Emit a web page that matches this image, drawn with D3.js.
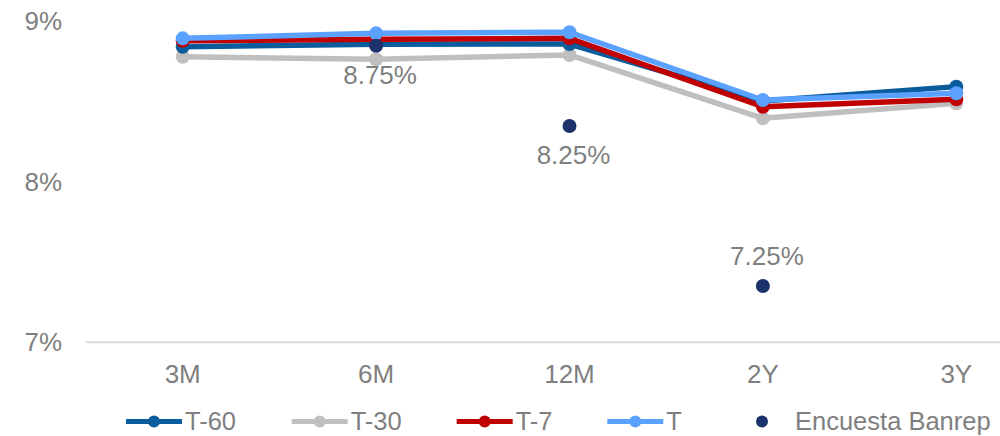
<!DOCTYPE html>
<html>
<head>
<meta charset="utf-8">
<script src="https://cdn.jsdelivr.net/npm/d3@7"></script>
<style>
  html, body { margin: 0; padding: 0; background: #fff; }
  svg { display: block; font-family: "Liberation Sans", Arial, sans-serif; }
</style>
</head>
<body>
<svg id="chart" width="1000" height="436"></svg>
<script>
const categories = ["3M", "6M", "12M", "2Y", "3Y"];
const yTicks = [7, 8, 9];
const seriesNames = ["T-60", "T-30", "T-7", "T"];
const t60 = [8.837, 8.852, 8.854, 8.500, 8.589];
const t30 = [8.775, 8.759, 8.786, 8.392, 8.485];
const t7  = [8.874, 8.883, 8.889, 8.464, 8.510];
const tNow = [8.889, 8.920, 8.927, 8.506, 8.548];
const encuestaCats = ["6M", "12M", "2Y"];
const encuestaValues = [8.843, 8.344, 7.350];
const encuestaLabels = ["8.75%", "8.25%", "7.25%"];
const encuestaLabelSide = ["below", "below", "above"];
const encuestaName = "Encuesta Banrep";

const colors = { "T-60": "#0B5C9C", "T-30": "#BFBFBF", "T-7": "#C00000", "T": "#5BA1FF" };
const encColor = "#1B326B";
const textColor = "#7F7F7F";

const svg = d3.select("#chart");
const x = d3.scaleBand().domain(categories).range([86, 1053]).padding(0);
const cx = c => x(c) + x.bandwidth() / 2;
const y = d3.scaleLinear().domain([7, 9]).range([342.3, 20.5]);

// y tick labels
svg.append("g").selectAll("text").data(yTicks).join("text")
  .attr("x", 62).attr("y", d => y(d)).attr("dy", "0.35em")
  .attr("text-anchor", "end").attr("fill", textColor)
  .attr("font-size", 26).text(d => d + "%");

// x axis line
svg.append("line").attr("x1", 86).attr("x2", 1053)
  .attr("y1", y(7)).attr("y2", y(7))
  .attr("stroke", "#D9D9D9").attr("stroke-width", 2);

// x labels
svg.append("g").selectAll("text").data(categories).join("text")
  .attr("x", d => cx(d)).attr("y", 374).attr("dy", "0.35em")
  .attr("text-anchor", "middle").attr("fill", textColor)
  .attr("font-size", 26).text(d => d);

const series = [
  { name: "T-30", values: t30 },
  { name: "T-60", values: t60 },
  { name: "T-7", values: t7 },
  { name: "T", values: tNow }
];

const line = d3.line().x((d, i) => cx(categories[i])).y(d => y(d));

series.forEach(s => {
  const g = svg.append("g");
  g.append("path").datum(s.values)
    .attr("d", line).attr("fill", "none")
    .attr("stroke", colors[s.name]).attr("stroke-width", 5.5)
    .attr("stroke-linejoin", "round");
  g.selectAll("circle").data(s.values).join("circle")
    .attr("cx", (d, i) => cx(categories[i])).attr("cy", d => y(d))
    .attr("r", 7).attr("fill", colors[s.name]);
});

// encuesta dots
svg.append("g").selectAll("circle").data(encuestaValues).join("circle")
  .attr("cx", (d, i) => cx(encuestaCats[i])).attr("cy", d => y(d))
  .attr("r", 7).attr("fill", encColor);

svg.append("g").selectAll("text").data(encuestaValues).join("text")
  .attr("x", (d, i) => cx(encuestaCats[i]) + 4)
  .attr("y", (d, i) => y(d) + (encuestaLabelSide[i] === "below" ? 29 : -30))
  .attr("dy", "0.35em").attr("text-anchor", "middle")
  .attr("fill", textColor).attr("font-size", 26)
  .text((d, i) => encuestaLabels[i]);

// legend
const legendY = 421.5;
const legendItems = [
  { name: "T-60", x: 126 },
  { name: "T-30", x: 291.7 },
  { name: "T-7", x: 456.7 },
  { name: "T", x: 607.3 }
];
const lg = svg.append("g");
legendItems.forEach(it => {
  lg.append("line").attr("x1", it.x).attr("x2", it.x + 56)
    .attr("y1", legendY).attr("y2", legendY)
    .attr("stroke", colors[it.name]).attr("stroke-width", 5);
  lg.append("circle").attr("cx", it.x + 28).attr("cy", legendY).attr("r", 6)
    .attr("fill", colors[it.name]);
  lg.append("text").attr("x", it.x + 59).attr("y", legendY).attr("dy", "0.35em")
    .attr("fill", textColor).attr("font-size", 25.5).text(it.name);
});
lg.append("circle").attr("cx", 762).attr("cy", legendY).attr("r", 6).attr("fill", encColor);
lg.append("text").attr("x", 795).attr("y", legendY).attr("dy", "0.35em")
  .attr("fill", textColor).attr("font-size", 25.5).text(encuestaName);
</script>
</body>
</html>
